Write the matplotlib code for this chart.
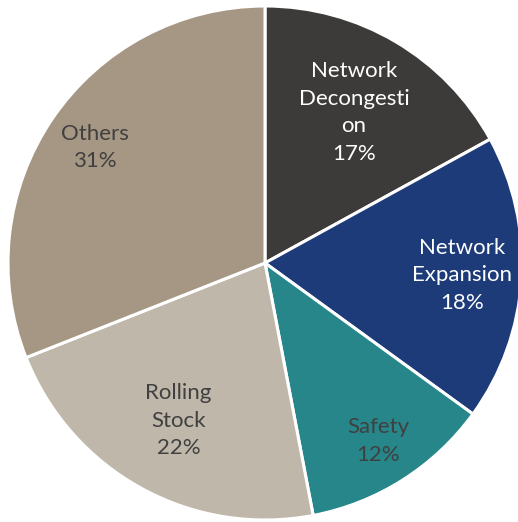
import numpy as np
import matplotlib.pyplot as plt

labels = ["Network\nDecongesti\non", "Network\nExpansion", "Safety", "Rolling\nStock", "Others"]
shares = [17, 18, 12, 22, 31]
colors = ["#3c3b39", "#1c3b78", "#26868a", "#bfb7aa", "#a69684"]
text_colors = ["white", "white", "#404040", "#404040", "#404040"]
label_dist = [0.68, 0.77, 0.82, 0.70, 0.80]

plt.rcParams['font.family'] = ['Lato', 'DejaVu Sans']

fig = plt.figure(figsize=(5.18, 5.22), dpi=100)
ax = fig.add_axes([0, 0, 1, 1])

wedges, _ = ax.pie(shares, colors=colors, startangle=90, counterclock=False,
                   wedgeprops=dict(edgecolor="white", linewidth=2.2))

for w, lab, val, tc, d in zip(wedges, labels, shares, text_colors, label_dist):
    ang = np.deg2rad((w.theta1 + w.theta2) / 2)
    ax.text(d * np.cos(ang), d * np.sin(ang), "{}\n{}%".format(lab, val),
            ha="center", va="center", color=tc, fontsize=16, linespacing=1.47)

ax.set_aspect("equal")
ax.set_xlim(-265 / 257, 253 / 257)
ax.set_ylim(-259 / 257, 263 / 257)
ax.axis("off")

fig.savefig("out.png", dpi=100)
